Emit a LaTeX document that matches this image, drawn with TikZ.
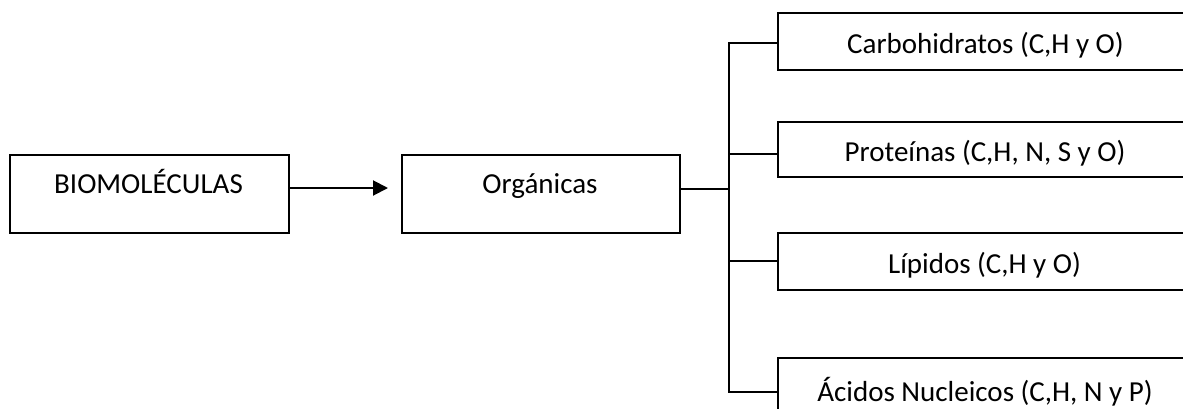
\documentclass[tikz,border=0pt]{standalone}
\usepackage{fontspec}
\setmainfont{Carlito}
\usetikzlibrary{arrows.meta}
\begin{document}
\begin{tikzpicture}[x=1pt,y=-1pt,
  box/.style={draw=black, line width=2pt, inner sep=0pt, anchor=north west},
  lbl/.style={inner sep=0pt, anchor=base, font=\fontsize{29}{35}\selectfont},
  wire/.style={draw=black, line width=2pt},
  arr/.style={wire, -{Triangle[length=15pt,width=15pt]}}]
  \useasboundingbox (0,0) rectangle (1183,408);
  \clip (0,0) rectangle (1183,408);

  % left part: source box, arrow, intermediate box
  \node[box, minimum width=279pt, minimum height=78pt] (bio) at (9,154) {};
  \node[lbl] (biot) at (148.5,193) {BIOMOLÉCULAS};
  \node[box, minimum width=278pt, minimum height=78pt] (org) at (401,154) {};
  \node[lbl] (orgt) at (540,193.5) {Orgánicas};
  \coordinate (arrtip) at (388,188);
  \draw[arr] (bio.east |- arrtip) -- (arrtip);

  % right column of boxes (running past the right edge)
  \node[box, minimum width=418pt, minimum height=57pt] (carb) at (777,12) {};
  \node[lbl] (carbt) at (985.5,53) {Carbohidratos (C,H y O)};
  \node[box, minimum width=418pt, minimum height=55pt] (prot) at (777,121) {};
  \node[lbl] (prott) at (985,161.5) {Proteínas (C,H, N, S y O)};
  \node[box, minimum width=418pt, minimum height=57pt] (lip) at (777,232) {};
  \node[lbl] (lipt) at (984.5,273.3) {Lípidos (C,H y O)};
  \node[box, minimum width=418pt, minimum height=57pt] (acid) at (777,356.5) {};
  \node[lbl] (acidt) at (985,401.5) {Ácidos Nucleicos (C,H, N y P)};

  % bus connecting the intermediate box to the column
  \coordinate (jorg) at (729,189);
  \coordinate (j1) at (729,43);
  \coordinate (j2) at (729,154);
  \coordinate (j3) at (729,261);
  \coordinate (j4) at (729,392);
  \draw[wire] (org.east |- jorg) -- (jorg);
  \draw[wire, line cap=rect] (j1) -- (j4);
  \draw[wire] (j1) -- (carb.west |- j1);
  \draw[wire] (j2) -- (prot.west |- j2);
  \draw[wire] (j3) -- (lip.west |- j3);
  \draw[wire] (j4) -- (acid.west |- j4);
\end{tikzpicture}
\end{document}
